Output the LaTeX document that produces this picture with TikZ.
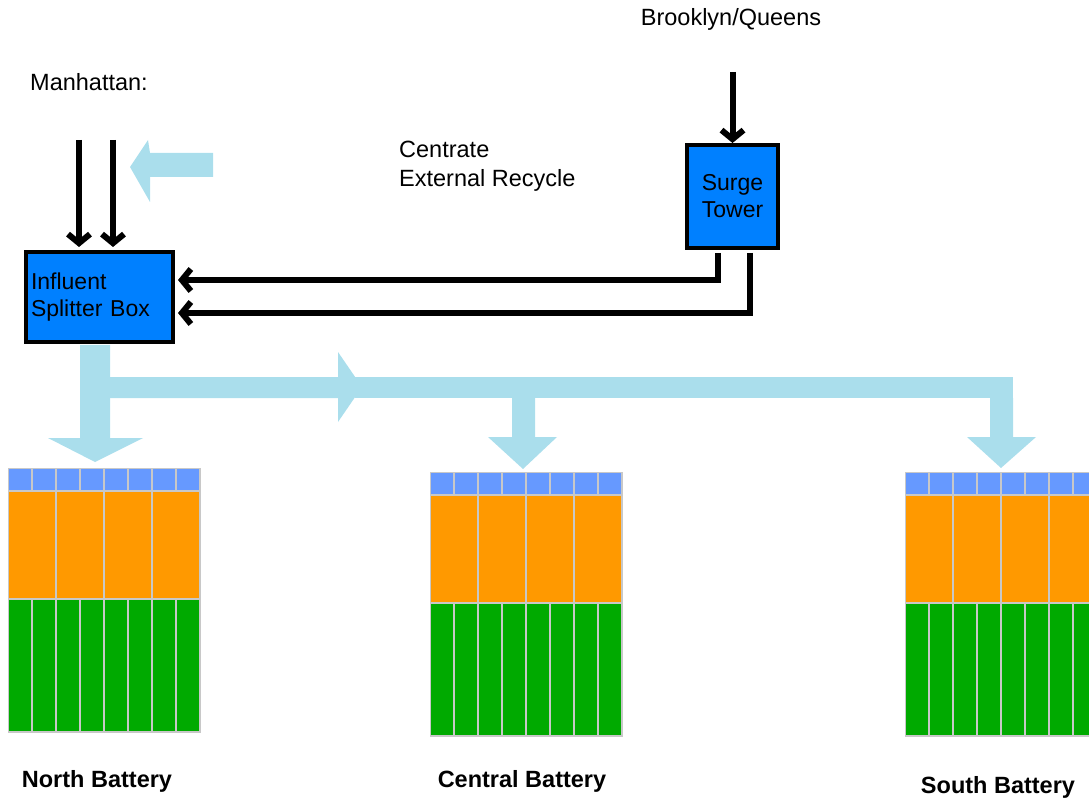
\documentclass[tikz,border=0pt]{standalone}
\usepackage{fontspec}
\setmainfont{Liberation Sans}
\usetikzlibrary{arrows.meta}

\definecolor{boxblue}{RGB}{0,128,255}
\definecolor{cellblue}{RGB}{102,153,255}
\definecolor{cellorange}{RGB}{255,153,0}
\definecolor{cellgreen}{RGB}{0,170,0}
\definecolor{cellgrid}{RGB}{200,200,200}
\definecolor{water}{RGB}{170,222,236}

% one battery of tanks, #1,#2 = top left corner
\newcommand{\battery}[2]{%
  \fill[cellgrid] (#1,#2) rectangle ++(193,265);
  \foreach \i in {0,...,7} {
    \fill[cellblue] (#1+1+\i*24,#2+1) rectangle ++(22,21);
    \fill[cellgreen] (#1+1+\i*24,#2+132) rectangle ++(22,131);
  }
  \foreach \i in {0,...,3}
    \fill[cellorange] (#1+1+\i*48,#2+24) rectangle ++(46,106);
}

\begin{document}
\begin{tikzpicture}[
    x=1pt, y=-1pt,
    every node/.style={font=\fontsize{23.5}{29}\selectfont, inner sep=0pt},
    unit/.style={draw, line width=4pt, fill=boxblue, font=\fontsize{23}{27}\selectfont},
    flow/.style={line width=6pt, -{Straight Barb[length=9pt, width=22pt]}},
    stream/.style={fill=water},
    battlabel/.style={font=\fontsize{23.5}{29}\selectfont\bfseries}
  ]
  \useasboundingbox (0,0) rectangle (1089,799);

  \node (bq) at (731,19) {Brooklyn/Queens};
  \node (manhattan) [anchor=west] at (30,82) {Manhattan:};
  \node (centrate) [anchor=west, align=left] at (399,166) {Centrate\\External Recycle};

  \node (isb) [unit, anchor=north west, minimum width=147pt, minimum height=90pt,
    text width=137pt, align=left, inner xsep=5pt] at (24,250) {Influent\\Splitter Box};
  \node (surge) [unit, align=center, minimum width=91pt, minimum height=103pt]
    at (732.5,196.5) {Surge\\Tower};

  \coordinate (bq in) at (732.5,72);
  \coordinate (m1) at (79,140);
  \coordinate (m2) at (113,140);

  \draw[flow] (bq in) -- (surge.north);
  \draw[flow, shorten >=3pt] (m1) -- (m1 |- isb.north);
  \draw[flow, shorten >=3pt] (m2) -- (m2 |- isb.north);
  \draw[flow, shorten <=3pt, shorten >=3pt] ([xshift=-14.5pt]surge.south) |- ([yshift=17pt]isb.east);
  \draw[flow, shorten <=3pt, shorten >=3pt] ([xshift=17.5pt]surge.south) |- ([yshift=-16pt]isb.east);

  % centrate return
  \fill[stream] (213,153) -- (150,153) -- (148,140) -- (130,167) -- (150,202)
    -- (150,177) -- (213,177) -- cycle;

  % distribution to the batteries
  \fill[stream] (80,345) -- (110,345) -- (110,438) -- (143,438) -- (95,462)
    -- (48,438) -- (80,438) -- cycle;
  \fill[stream] (110,377) -- (338,377) -- (338,352) -- (362,387) -- (338,422)
    -- (338,398) -- (110,398) -- cycle;
  \fill[stream] (355,377) rectangle (1013,398);
  \fill[stream] (512,398) -- (535,398) -- (535,437) -- (557,437) -- (523,469)
    -- (488,437) -- (512,437) -- cycle;
  \fill[stream] (990,398) -- (1013,398) -- (1013,437) -- (1036,437) -- (1001,468)
    -- (967,437) -- (990,437) -- cycle;

  \battery{8}{468}
  \battery{430}{472}
  \battery{905}{472}

  \node (north) [battlabel] at (97,781) {North Battery};
  \node (central) [battlabel] at (522,781) {Central Battery};
  \node (south) [battlabel] at (998,787) {South Battery};
\end{tikzpicture}
\end{document}
